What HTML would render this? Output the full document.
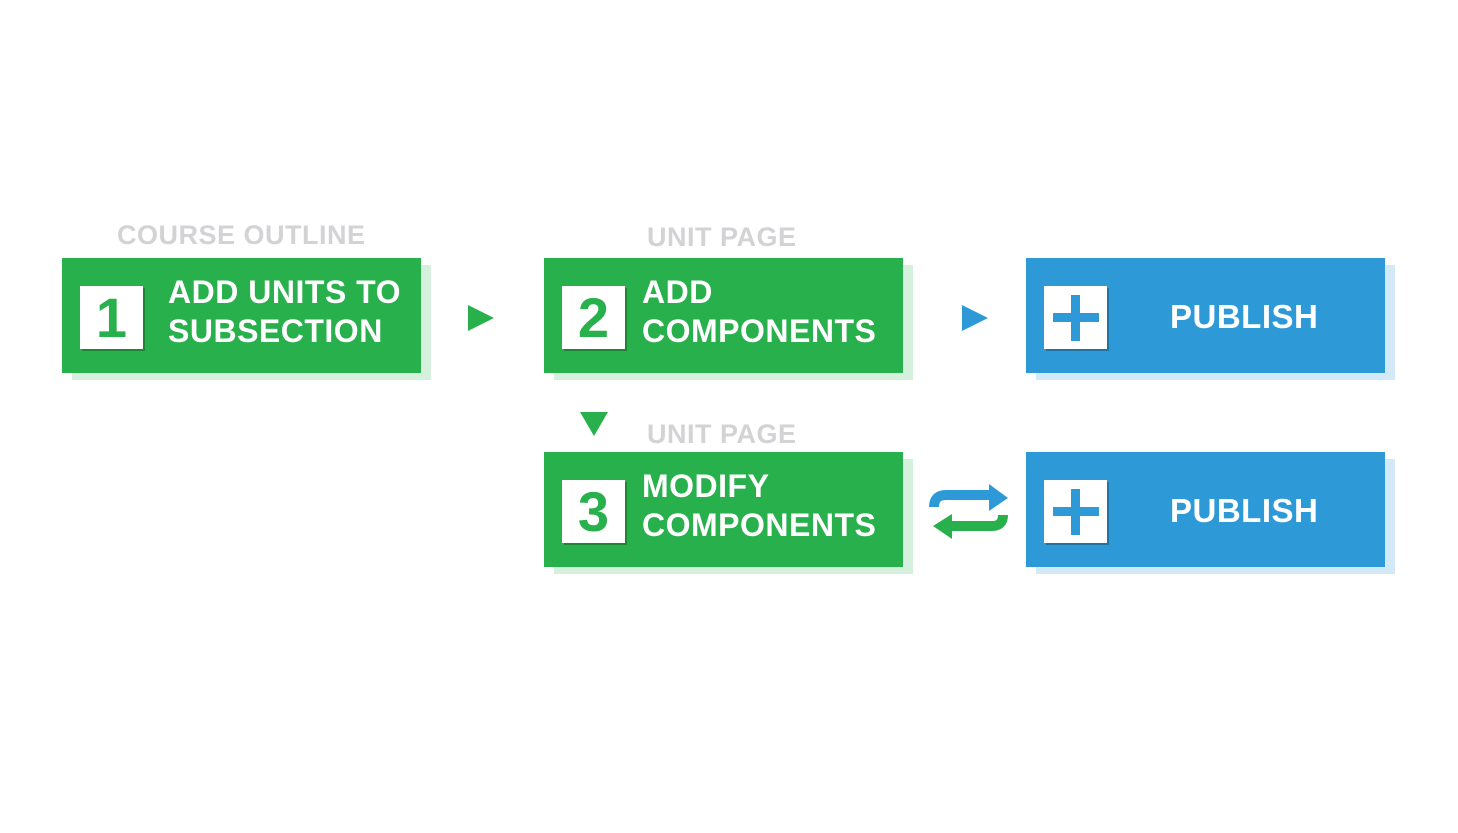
<!DOCTYPE html>
<html><head><meta charset="utf-8"><style>
body{margin:0;width:1458px;height:833px;background:#fff;position:relative;overflow:hidden;font-family:"Liberation Sans",sans-serif;font-weight:bold}
.a{position:absolute}
.box{position:absolute;width:359px;height:115px}
.g{background:#27b04b}.b{background:#2d9ad7}
.sg{background:#d5f0dc}.sb{background:#d4e9f7}
.sq{position:absolute;width:63px;height:63px;background:#fff;box-shadow:2px 2px 0 rgba(0,0,0,0.25);color:#27b04b;font-size:56px;text-align:center;line-height:64px;font-weight:bold}
.t{position:absolute;color:#fff;font-size:32px;line-height:39px;letter-spacing:0.5px;white-space:nowrap}
.lbl{position:absolute;color:#d3d3d6;font-size:27px;line-height:30px;letter-spacing:0.5px;white-space:nowrap}
</style></head><body>
<div class="lbl" style="left:117px;top:220px">COURSE OUTLINE</div>
<div class="lbl" style="left:647px;top:222px">UNIT PAGE</div>
<div class="lbl" style="left:647px;top:419px">UNIT PAGE</div>

<div class="box sg" style="left:72px;top:265px"></div>
<div class="box g" style="left:62px;top:258px"></div>
<div class="sq" style="left:80px;top:286px">1</div>
<div class="t" style="left:168px;top:273px">ADD UNITS TO<br>SUBSECTION</div>

<div class="box sg" style="left:554px;top:265px"></div>
<div class="box g" style="left:544px;top:258px"></div>
<div class="sq" style="left:562px;top:286px">2</div>
<div class="t" style="left:642px;top:273px">ADD<br>COMPONENTS</div>

<div class="box sg" style="left:554px;top:459px"></div>
<div class="box g" style="left:544px;top:452px"></div>
<div class="sq" style="left:562px;top:480px">3</div>
<div class="t" style="left:642px;top:467px">MODIFY<br>COMPONENTS</div>

<div class="box sb" style="left:1036px;top:265px"></div>
<div class="box b" style="left:1026px;top:258px"></div>
<div class="sq" style="left:1044px;top:286px"><svg width="63" height="63"><rect x="9" y="27" width="46" height="9" fill="#2d9ad7"/><rect x="27" y="9" width="9" height="46" fill="#2d9ad7"/></svg></div>
<div class="t" style="left:1170px;top:297px;font-size:33px">PUBLISH</div>

<div class="box sb" style="left:1036px;top:459px"></div>
<div class="box b" style="left:1026px;top:452px"></div>
<div class="sq" style="left:1044px;top:480px"><svg width="63" height="63"><rect x="9" y="27" width="46" height="9" fill="#2d9ad7"/><rect x="27" y="9" width="9" height="46" fill="#2d9ad7"/></svg></div>
<div class="t" style="left:1170px;top:491px;font-size:33px">PUBLISH</div>

<svg class="a" style="left:0;top:0" width="1458" height="833">
<polygon points="468,305 494,318 468,331" fill="#27b04b"/>
<polygon points="962,305 988,318 962,331" fill="#2d9ad7"/>
<polygon points="580,412 608,412 594,436" fill="#27b04b"/>
<path d="M934,507 Q934,495 946,495 L990,495" stroke="#2d9ad7" stroke-width="10" fill="none"/>
<polygon points="989,484 1008,498 989,511" fill="#2d9ad7"/>
<path d="M1003,515 Q1003,526 992,526 L950,526" stroke="#27b04b" stroke-width="10" fill="none"/>
<polygon points="952,514 933,526 952,539" fill="#27b04b"/>
</svg>
</body></html>
